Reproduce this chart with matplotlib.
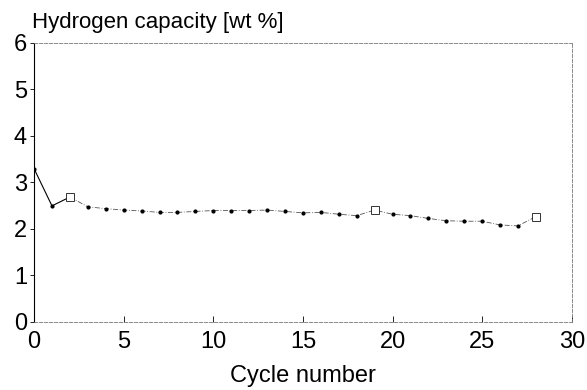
import matplotlib
matplotlib.use("Agg")
import matplotlib.pyplot as plt

# hydrogen capacity vs cycle number
cycles = list(range(0, 29))
capacity = [3.29, 2.49, 2.68, 2.47, 2.43, 2.40, 2.38, 2.35, 2.35, 2.37,
            2.39, 2.39, 2.39, 2.40, 2.37, 2.34, 2.35, 2.31, 2.28, 2.40,
            2.31, 2.28, 2.22, 2.17, 2.16, 2.16, 2.08, 2.06, 2.26]
# cycles marked with open squares
square_cycles = [2, 19, 28]

plt.rcParams['font.family'] = ['Liberation Sans', 'DejaVu Sans']

fig = plt.figure(figsize=(5.87, 3.90), dpi=100)
ax = fig.add_axes([0.058, 0.175, 0.916, 0.716])

# first segments solid, the rest thin dash-dot
ax.plot(cycles[:3], capacity[:3], color='black', lw=0.8, zorder=2)
ax.plot(cycles[2:], capacity[2:], color='#555555', lw=0.6,
        linestyle=(0, (6, 2, 1, 2)), zorder=2)

dot_x = [c for c in cycles if c not in square_cycles]
dot_y = [capacity[c] for c in dot_x]
ax.plot(dot_x, dot_y, 'o', color='black', ms=2.0, zorder=3)
sq_y = [capacity[c] for c in square_cycles]
ax.plot(square_cycles, sq_y, 's', mfc='white', mec='#333333', mew=0.7, ms=6, zorder=4)

ax.set_xlim(0, 30)
ax.set_ylim(0, 6)
ax.set_xticks([0, 5, 10, 15, 20, 25, 30])
ax.set_yticks([0, 1, 2, 3, 4, 5, 6])
ax.tick_params(axis='both', labelsize=17, colors='black')
ax.tick_params(axis='x', direction='in', length=4, width=0.6, pad=7)
ax.tick_params(axis='y', direction='out', length=3, width=0.6, pad=2)

ax.spines['left'].set_linewidth(0.8)
for side in ['top', 'right', 'bottom']:
    ax.spines[side].set_linewidth(0.6)
    ax.spines[side].set_color('#777777')
    ax.spines[side].set_linestyle((0, (4, 2)))

ax.set_xlabel('Cycle number', fontsize=17, labelpad=8)
fig.text(0.055, 0.928, 'Hydrogen capacity [wt %]', fontsize=16, ha='left', va='baseline')

fig.savefig('out.png', dpi=100)
